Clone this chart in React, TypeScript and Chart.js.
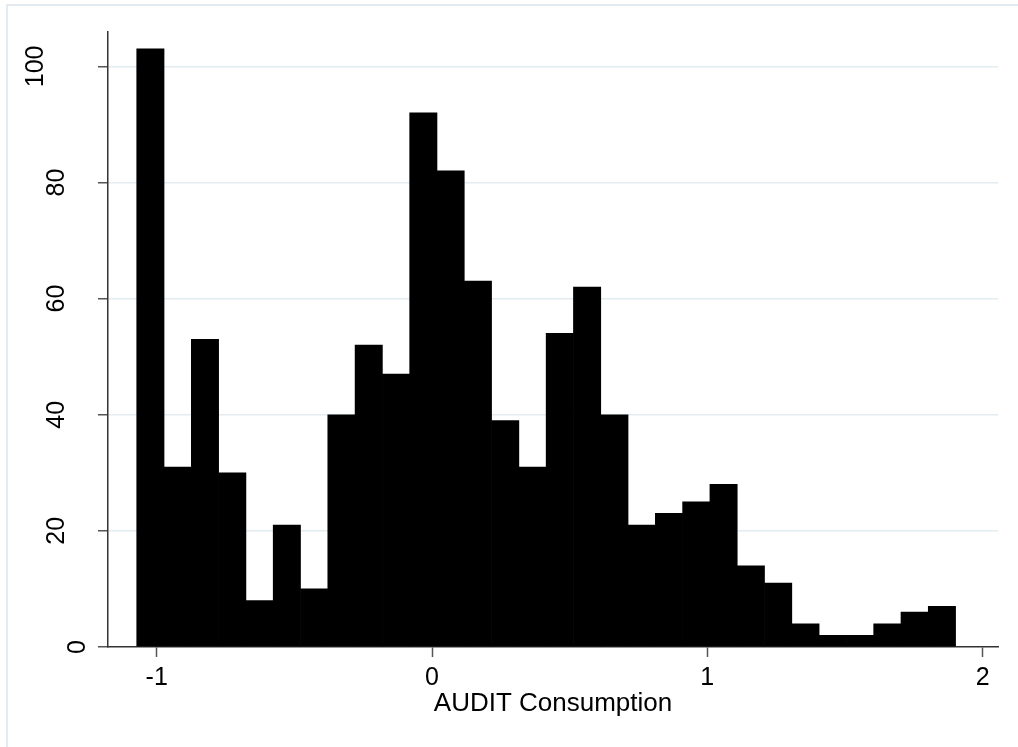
import React, { useEffect, useRef } from "react";
import { Chart, registerables } from "chart.js";

Chart.register(...registerables);

// Histogram data (frequency per bin)
const counts = [103, 31, 53, 30, 8, 21, 10, 40, 52, 47, 92, 82, 63, 39, 31, 54, 62, 40, 21, 23, 25, 28, 14, 11, 4, 2, 2, 4, 6, 7];
const binStart = -1.0726;
const binWidth = 0.09915;
const xTickValues = [-1, 0, 1, 2];
const yTickValues = [0, 20, 40, 60, 80, 100];
const xTitle = "AUDIT Consumption";
const xMin = -1.177;
const xMax = 2.056;
const yMin = 0;
const yMax = 106;

const FONT = '"Liberation Sans", Arial, Helvetica, sans-serif';

export default function App() {
  const ref = useRef<HTMLCanvasElement>(null);

  useEffect(() => {
    if (!ref.current) return;
    const points = counts.map((c, i) => ({ x: binStart + binWidth * (i + 0.5), y: c }));

    const framePlugin = {
      id: "frame",
      beforeDraw(chart: any) {
        const ctx = chart.ctx;
        ctx.save();
        ctx.strokeStyle = "#e3ebf0";
        ctx.lineWidth = 2;
        ctx.beginPath();
        ctx.moveTo(7, chart.height + 2);
        ctx.lineTo(7, 5);
        ctx.lineTo(chart.width + 2, 5);
        ctx.stroke();
        ctx.restore();
      },
    };

    const yLabelPlugin = {
      id: "yLabels",
      afterDraw(chart: any) {
        const ys = chart.scales.y;
        const ctx = chart.ctx;
        ctx.save();
        ctx.font = `25px ${FONT}`;
        ctx.fillStyle = "#000";
        ctx.textAlign = "center";
        ctx.textBaseline = "middle";
        yTickValues.forEach((v) => {
          const label = String(v);
          const py = ys.getPixelForValue(v);
          const px = ys.right - 9 - 21 * label.length;
          ctx.save();
          ctx.translate(px, py);
          ctx.rotate(-Math.PI / 2);
          ctx.fillText(label, 0, 0);
          ctx.restore();
        });
        ctx.restore();
      },
    };

    const chart = new Chart(ref.current, {
      type: "bar",
      data: {
        datasets: [
          {
            data: points as any,
            backgroundColor: "#000",
            borderWidth: 0,
            categoryPercentage: 1,
            barPercentage: 1,
          },
        ],
      },
      options: {
        responsive: false,
        animation: false,
        layout: { padding: { left: 0, right: 20, top: 31.5, bottom: 0 } },
        plugins: {
          legend: { display: false },
          tooltip: { enabled: false },
        },
        scales: {
          x: {
            type: "linear",
            min: xMin,
            max: xMax,
            offset: false,
            afterBuildTicks: (s: any) => {
              s.ticks = xTickValues.map((v) => ({ value: v }));
            },
            afterFit: (s: any) => {
              s.height = 100;
            },
            grid: {
              offset: false,
              drawOnChartArea: false,
              drawTicks: true,
              tickLength: 10,
              tickColor: "#555",
              tickWidth: 1.5,
            },
            border: { display: true, color: "#333", width: 1.5 },
            ticks: {
              font: { family: FONT, size: 25 },
              color: "#000",
              padding: 6,
              maxRotation: 0,
              autoSkip: false,
              callback: (v: any) => String(v),
            },
            title: {
              display: true,
              text: xTitle,
              font: { family: FONT, size: 26 },
              color: "#000",
              padding: { top: 0, bottom: 28 },
            },
          },
          y: {
            type: "linear",
            min: yMin,
            max: yMax,
            afterBuildTicks: (s: any) => {
              s.ticks = yTickValues.map((v) => ({ value: v }));
            },
            afterFit: (s: any) => {
              s.width = 108;
            },
            grid: {
              offset: false,
              color: (ctx: any) => (ctx.tick && ctx.tick.value === 0 ? "rgba(0,0,0,0)" : "#e3ecf0"),
              lineWidth: 1.5,
              drawTicks: true,
              tickLength: 10,
              tickColor: "#555",
              tickWidth: 1.5,
            },
            border: { display: true, color: "#333", width: 1.5 },
            ticks: { display: false },
          },
        },
      },
      plugins: [framePlugin, yLabelPlugin],
    });

    return () => chart.destroy();
  }, []);

  return (
    <div
      style={{
        position: "fixed",
        left: 0,
        top: 0,
        width: 1018,
        height: 747,
        overflow: "hidden",
        background: "#fff",
      }}
    >
      <canvas ref={ref} width={1018} height={747} style={{ display: "block", width: 1018, height: 747 }} />
    </div>
  );
}
